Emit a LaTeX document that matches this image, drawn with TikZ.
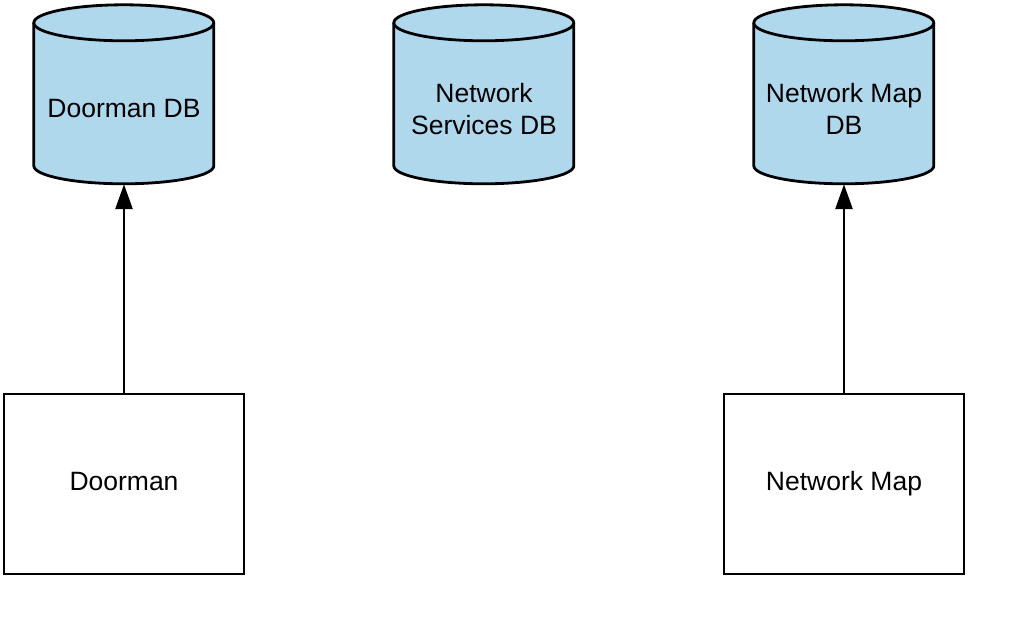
\documentclass[tikz,border=0pt]{standalone}
\usepackage{fontspec}
\setmainfont{Liberation Sans}
\usetikzlibrary{positioning,arrows.meta}
\definecolor{dbblue}{RGB}{176,216,237}
% cylinder drawn round a named (invisible) node
\newcommand{\dbcylinder}[1]{%
  \filldraw[fill=dbblue, line width=2.8pt, line join=round]
    (#1.north west) ++(0,-18) -- ++(0,-143)
    arc[start angle=180, end angle=360, x radius=90, y radius=18] -- ++(0,143)
    arc[start angle=0, end angle=180, x radius=90, y radius=18] -- cycle;
  \draw[line width=2.8pt] (#1.north west) ++(0,-18)
    arc[start angle=180, end angle=360, x radius=90, y radius=18];}

\begin{document}
\begin{tikzpicture}[x=1pt,y=1pt,
    database/.style={rectangle, minimum width=180pt, minimum height=179pt, inner sep=0pt},
    dblabel/.style={align=center, font=\fontsize{26.5}{32}\selectfont},
    service/.style={rectangle, draw, line width=2.8pt, minimum width=240pt, minimum height=180pt,
        inner sep=0pt, text height=20pt, text depth=7pt, font=\fontsize{26.5}{32}\selectfont},
    link/.style={line width=2.8pt, -{Triangle[length=25pt,width=17pt]}}]
    \useasboundingbox (0,0) rectangle (1010,-632);
    \node[database] (doormanDB) at (124,-94.5) {};
    \node[database] (servicesDB) at (484,-94.5) {};
    \node[database] (mapDB) at (844,-94.5) {};
    \dbcylinder{doormanDB}
    \dbcylinder{servicesDB}
    \dbcylinder{mapDB}
    \node[dblabel] (doormanDBText) at (124,-109) {Doorman DB};
    \node[dblabel] (servicesDBText) at (484,-109) {Network\\Services DB};
    \node[dblabel] (mapDBText) at (844,-109) {Network Map\\DB};
    \node[service] (doorman) at (124,-484) {Doorman};
    \node[service] (networkMap) at (844,-484) {Network Map};


\draw[link] (doorman) -- (doormanDB);
\draw[link] (networkMap) -- (mapDB);

\end{tikzpicture}
\end{document}
